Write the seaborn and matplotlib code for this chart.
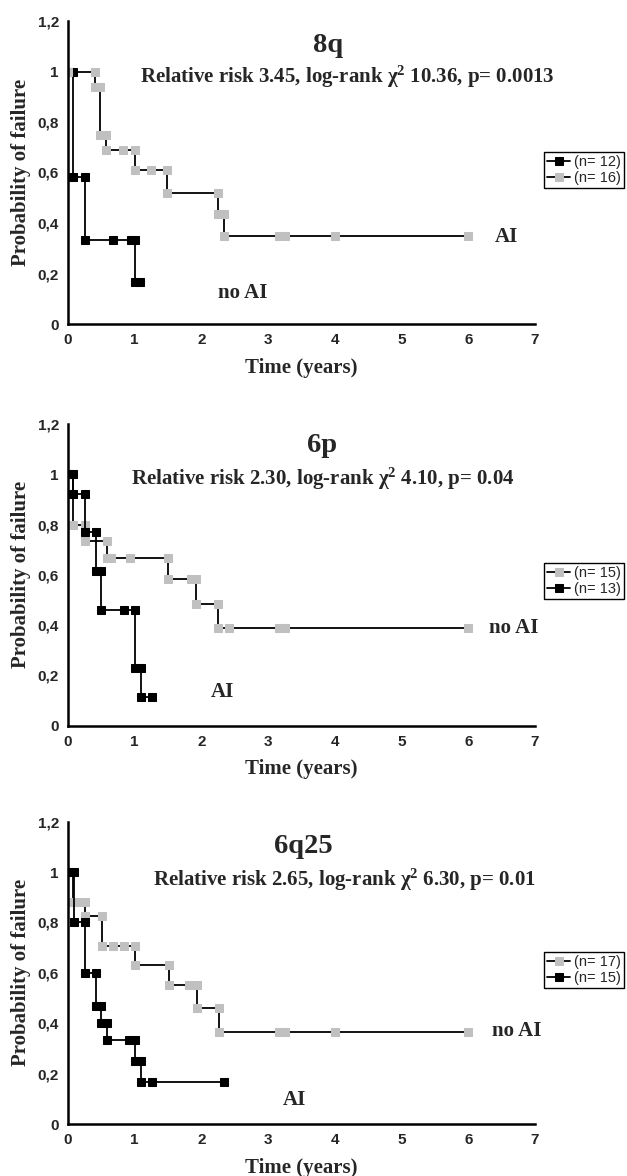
import matplotlib
matplotlib.use("Agg")
import matplotlib.pyplot as plt
import seaborn as sns
import pandas as pd

sns.set_style("white")
plt.rcParams['font.family'] = ['Liberation Serif', 'DejaVu Serif']
plt.rcParams['mathtext.fontset'] = 'custom'
plt.rcParams['mathtext.rm'] = 'Liberation Serif:bold'
plt.rcParams['mathtext.bf'] = 'Liberation Serif:bold'
plt.rcParams['mathtext.it'] = 'Liberation Serif:bold:italic'

GRIS = "#c0c0c0"
NEGRO = "black"

#%% datos (puntos de las curvas, tal como los une Excel)

# 8q
t_8q_noai = [0, 0.08, 0.08, 0.25, 0.25, 0.67, 0.95, 1.0, 1.0, 1.08]
p_8q_noai = [1, 1, 0.583, 0.583, 0.333, 0.333, 0.333, 0.333, 0.167, 0.167]
t_8q_ai = [0, 0.41, 0.41, 0.48, 0.48, 0.57, 0.57, 0.82, 1.0, 1.0, 1.24, 1.49,
           1.49, 2.25, 2.25, 2.34, 2.34, 3.17, 3.25, 4.0, 6.0]
p_8q_ai = [1, 1, 0.9375, 0.9375, 0.75, 0.75, 0.6875, 0.6875, 0.6875, 0.609,
           0.609, 0.609, 0.52, 0.52, 0.435, 0.435, 0.348, 0.348, 0.348, 0.348, 0.348]

# 6p
t_6p_noai = [0, 0.08, 0.08, 0.26, 0.26, 0.58, 0.58, 0.65, 0.93, 1.5, 1.5, 1.84,
             1.92, 1.92, 2.25, 2.25, 2.42, 3.17, 3.25, 6.0]
p_6p_noai = [1, 1, 0.8, 0.8, 0.733, 0.733, 0.667, 0.667, 0.667, 0.667, 0.583,
             0.583, 0.583, 0.486, 0.486, 0.389, 0.389, 0.389, 0.389, 0.389]
t_6p_ai = [0, 0.08, 0.08, 0.26, 0.26, 0.42, 0.42, 0.5, 0.5, 0.84, 1.0, 1.0,
           1.1, 1.1, 1.26]
p_6p_ai = [1, 1, 0.923, 0.923, 0.769, 0.769, 0.615, 0.615, 0.462, 0.462, 0.462,
           0.231, 0.231, 0.115, 0.115]

# 6q25
t_6q_noai = [0, 0.08, 0.08, 0.14, 0.26, 0.26, 0.51, 0.51, 0.67, 0.84, 1.0, 1.0,
             1.51, 1.51, 1.82, 1.93, 1.93, 2.26, 2.26, 3.17, 3.25, 4.0, 6.0]
p_6q_noai = [1, 1, 0.882, 0.882, 0.882, 0.824, 0.824, 0.706, 0.706, 0.706, 0.706,
             0.63, 0.63, 0.551, 0.551, 0.551, 0.459, 0.459, 0.367, 0.367, 0.367,
             0.367, 0.367]
t_6q_ai = [0, 0.09, 0.09, 0.26, 0.26, 0.42, 0.42, 0.5, 0.5, 0.58, 0.58, 0.92,
           1.0, 1.0, 1.1, 1.1, 1.26, 2.34]
p_6q_ai = [1, 1, 0.8, 0.8, 0.6, 0.6, 0.467, 0.467, 0.4, 0.4, 0.333, 0.333,
           0.333, 0.25, 0.25, 0.167, 0.167, 0.167]

titulos = ["8q", "6p", "6q25"]
subtitulos = ["Relative risk 3.45, log-rank χ$^{\\mathbf{2}}$ 10.36, p= 0.0013",
              "Relative risk 2.30, log-rank χ$^{\\mathbf{2}}$ 4.10, p= 0.04",
              "Relative risk 2.65, log-rank χ$^{\\mathbf{2}}$ 6.30, p= 0.01"]

# cada panel: series en orden de dibujo/leyenda -> (tiempos, prob, color, etiqueta)
paneles = [
    [(t_8q_noai, p_8q_noai, NEGRO, "(n= 12)"), (t_8q_ai, p_8q_ai, GRIS, "(n= 16)")],
    [(t_6p_noai, p_6p_noai, GRIS, "(n= 15)"), (t_6p_ai, p_6p_ai, NEGRO, "(n= 13)")],
    [(t_6q_noai, p_6q_noai, GRIS, "(n= 17)"), (t_6q_ai, p_6q_ai, NEGRO, "(n= 15)")],
]

# etiquetas "AI" / "no AI" (posicion en años, prob)
etiquetas = [
    [(6.4, 0.345, "AI"), (2.25, 0.123, "no AI")],
    [(6.31, 0.389, "no AI"), (2.14, 0.134, "AI")],
    [(6.36, 0.369, "no AI"), (3.22, 0.095, "AI")],
]
# (x titulo, y titulo, x subtitulo, y subtitulo) en unidades de datos, linea base
pos_titulo = [(3.9, 1.076, 4.18, 0.954),
              (3.81, 1.089, 3.82, 0.957),
              (3.53, 1.077, 4.14, 0.945)]

yticks = [0, 0.2, 0.4, 0.6, 0.8, 1.0, 1.2]
ytick_labels = ["0", "0,2", "0,4", "0,6", "0,8", "1", "1,2"]

#%% figura
W, H = 627, 1176
fig = plt.figure(figsize=(W / 100, H / 100), dpi=100)

# (arriba, abajo) de cada eje en pixeles
ejes_px = [(21, 324), (424, 725.7), (821.7, 1124)]
leyenda_px = [152, 563, 952]

for i, (arriba, abajo) in enumerate(ejes_px):
    ax = fig.add_axes([68 / W, 1 - abajo / H, (535 - 68) / W, (abajo - arriba) / H])

    handles = []
    for t, p, col, lab in paneles[i]:
        df = pd.DataFrame({'tiempo': t, 'prob': p})
        sns.lineplot(data=df, x='tiempo', y='prob', ax=ax, color=NEGRO,
                     linewidth=1.3, marker='s', markersize=5.5,
                     markerfacecolor=col, markeredgecolor=col,
                     estimator=None, sort=False, label=lab)
        handles.append(ax.lines[-1])

    ax.set_xlim(0, 7)
    ax.set_ylim(0, 1.2)
    ax.set_xticks(range(8))
    ax.set_yticks(yticks)
    ax.set_yticklabels(ytick_labels)
    for lbl in ax.get_xticklabels() + ax.get_yticklabels():
        lbl.set_fontfamily('Liberation Sans')
        lbl.set_fontweight('bold')
        lbl.set_fontsize(11)
    ax.tick_params(direction='inout', length=7, width=1.5, color='black', pad=3)

    for lado in ['top', 'right']:
        ax.spines[lado].set_visible(False)
    for lado in ['left', 'bottom']:
        ax.spines[lado].set_color('black')
        ax.spines[lado].set_linewidth(1.8)

    ax.set_xlabel("Time (years)", fontsize=15, fontweight='bold')
    ax.set_ylabel("Probability of failure", fontsize=15, fontweight='bold')
    ax.xaxis.label.set_va('center')
    ax.yaxis.label.set_va('center')
    ax.xaxis.set_label_coords(0.5, -0.145)
    ax.yaxis.set_label_coords(-0.1, 0.5)

    xt, yt, xs, ys = pos_titulo[i]
    ax.text(xt, yt, titulos[i], fontsize=20.5, fontweight='bold',
            ha='center', va='baseline', clip_on=False)
    ax.text(xs, ys, subtitulos[i], fontsize=15, fontweight='bold',
            ha='center', va='baseline', clip_on=False)

    for x, y, txt in etiquetas[i]:
        ax.text(x, y, txt, fontsize=15, fontweight='bold', ha='left',
                va='center', clip_on=False)

    ax.legend(handles=handles, labels=[h[3] for h in paneles[i]],
              loc='upper left', bbox_to_anchor=(544 / W, 1 - leyenda_px[i] / H),
              bbox_transform=fig.transFigure, frameon=True, fancybox=False,
              edgecolor='black', framealpha=1, borderpad=0.2, labelspacing=0.15,
              handlelength=1.6, handletextpad=0.25, borderaxespad=0,
              prop={'family': 'Liberation Sans', 'size': 10.5})
    ax.get_legend().get_frame().set_linewidth(1.0)

plt.savefig("out.png", dpi=100)
